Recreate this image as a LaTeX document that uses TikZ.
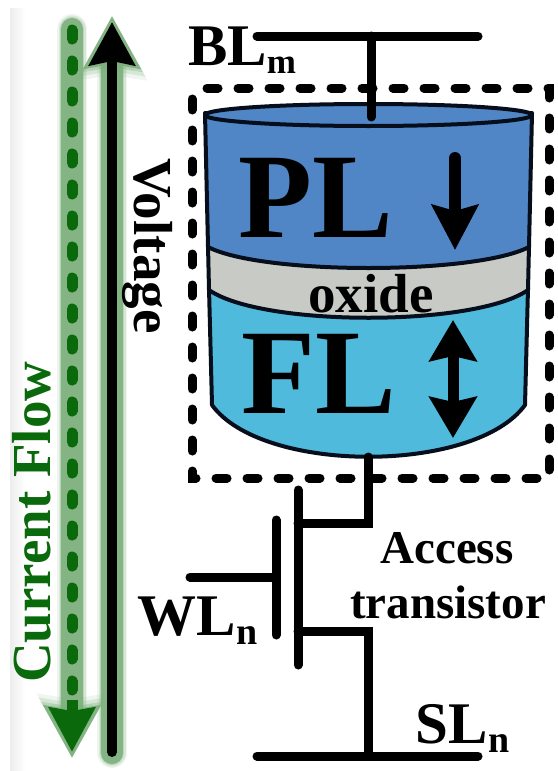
\documentclass[tikz,border=0pt]{standalone}
\usepackage{fontspec}
\setmainfont{Liberation Serif}
\usepackage{tikz}
\usetikzlibrary{arrows.meta,positioning,calc}
\definecolor{plBlue}{RGB}{80,134,198}
\definecolor{flCyan}{RGB}{80,186,220}
\definecolor{oxGray}{RGB}{200,202,197}
\definecolor{edgeNavy}{RGB}{6,14,28}
\definecolor{flowGreen}{RGB}{10,105,10}
\definecolor{haloGreen}{RGB}{122,174,122}
\tikzset{
  cellWire/.style={line width=9pt, line cap=round, line join=miter, black},
  cellBox/.style={line width=9pt, line cap=round, black, dash pattern=on 11pt off 20pt, dash phase=20pt},
  cellLayer/.style={draw=edgeNavy, line width=4pt, line join=round},
  %% Labels
  lblBig/.style={inner sep=0pt, font=\fontsize{121}{121}\selectfont\bfseries},
  lblLine/.style={inner sep=0pt, font=\fontsize{59}{59}\selectfont\bfseries},
  lblMid/.style={inner sep=0pt, font=\fontsize{55}{55}\selectfont\bfseries},
  lblAcc/.style={inner sep=0pt, font=\fontsize{47}{47}\selectfont\bfseries},
}
\newcommand{\subn}[1]{\raisebox{-9pt}{\fontsize{38}{38}\selectfont\kern1pt #1}}
\begin{document}
\begin{tikzpicture}[x=1pt, y=-1pt]
\useasboundingbox (0,0) rectangle (557,771);
\fill[left color=gray!14, right color=white] (10,8) rectangle (26,771);

%% Halos
\coordinate (flowTop) at (72,30);
\coordinate (flowEnd) at (72,700);
\coordinate (flowTip) at (72,752);
\coordinate (voltBot) at (112,752);
\coordinate (voltTip) at (112,22);
\foreach \haloW/\haloL/\haloS/\haloO in {30/63/67/0.12, 27/59/63/0.2, 24/55/59/0.3, 22/52/55/0.85}{
  \draw[haloGreen, opacity=\haloO, line width=\haloW pt, line cap=round, shorten >=-6pt, shorten <=-1pt,
    -{Stealth[length=\haloL pt, width=\haloS pt, inset=4pt]}] (flowTop) -- (flowTip);
  \draw[haloGreen, opacity=\haloO, line width=\haloW pt, line cap=round, shorten >=-6pt, shorten <=-1pt,
    -{Stealth[length=\haloL pt, width=\haloS pt, inset=4pt]}] (voltBot) -- (voltTip);
}

%% Current and voltage arrows
\draw[flowGreen, line width=11pt, line cap=round, dash pattern=on 9pt off 22pt] (flowTop) -- (flowEnd);
\draw[flowGreen, line width=11pt, -{Stealth[length=44pt, width=45pt, inset=3pt]}] (flowEnd) -- (flowTip);
\draw[black, line width=10pt, line cap=round, -{Stealth[length=43pt, width=45pt, inset=4pt]}] (voltBot) -- (voltTip);

%% Cylinder
\coordinate (blLeft)  at (257,36);
\coordinate (blRight) at (478,36);
\coordinate (blJoin)  at (371,36);
\coordinate (blEnd)   at (371,117);
\path[fill=flCyan, cellLayer] (209,288) -- (212,405) .. controls (262,474) and (475,474) .. (525,405) -- (528,288) -- cycle;
\path[fill=oxGray, cellLayer] (208,245) -- (209,290) .. controls (262,327) and (475,327) .. (528,290) -- (529,245) -- cycle;
\path[fill=plBlue, cellLayer] (205,113) -- (208,247) .. controls (262,275) and (475,275) .. (529,247) -- (532,113) -- cycle;
\draw[fill=plBlue, cellLayer] (368.5,115) ellipse [x radius=163.5, y radius=11];

%% Dashed frame
\coordinate (boxA) at (192,88);
\coordinate (boxB) at (549,478);
\draw[cellBox] (boxA) rectangle (boxB);

%% Wires
\coordinate (cylBot)   at (368,457);
\coordinate (drainR)   at (368,523);
\coordinate (drainL)   at (298,523);
\coordinate (chanTop)  at (298,490);
\coordinate (chanBot)  at (298,665);
\coordinate (gateTop)  at (276,520);
\coordinate (gateBot)  at (276,635);
\coordinate (wlLeft)   at (190,577);
\coordinate (wlRight)  at (276,577);
\coordinate (srcL)     at (298,631);
\coordinate (srcR)     at (368,631);
\coordinate (slJoin)   at (368,756);
\coordinate (slLeft)   at (257,756);
\coordinate (slRight)  at (478,756);
\draw[cellWire] (blLeft) -- (blRight);
\draw[cellWire] (blJoin) -- (blEnd);
\draw[cellWire] (cylBot) -- (drainR) -- (drainL);
\draw[cellWire] (chanTop) -- (chanBot);
\draw[cellWire] (gateTop) -- (gateBot);
\draw[cellWire] (wlLeft) -- (wlRight);
\draw[cellWire] (srcL) -- (srcR) -- (slJoin);
\draw[cellWire] (slLeft) -- (slRight);

%% Polarisation arrows
\coordinate (plTop) at (455,158);
\coordinate (plTip) at (455,250);
\coordinate (flTop) at (453,320);
\coordinate (flBot) at (453,438);
\draw[black, line width=12pt, line cap=round, -{Stealth[length=45pt, width=46pt, inset=6pt]}] (plTop) -- (plTip);
\draw[black, line width=11pt, {Stealth[length=41pt, width=47pt, inset=5pt]}-{Stealth[length=41pt, width=47pt, inset=5pt]}] (flTop) -- (flBot);

%% Labels
\node[lblBig, anchor=base west] (lblPL) at (238,237) {PL};
\node[lblBig, anchor=base west] (lblFL) at (241,413) {FL};
\node[lblMid, anchor=base] (lblOx) at (371,312) {oxide};
\node[lblLine, anchor=base west] (lblBL) at (188,65) {BL\raisebox{-8pt}{\fontsize{35}{35}\selectfont m}};
\node[lblLine, anchor=base west] (lblWL) at (137,635) {WL\subn{n}};
\node[lblLine, anchor=base west] (lblSL) at (415,743) {SL\subn{n}};
\node[lblAcc, anchor=base] (lblAcc) at (447,563) {Access};
\node[lblAcc, anchor=base] (lblTr) at (448,618) {transistor};
\node[lblMid, anchor=base west, rotate=-90] (lblVolt) at (134,158) {Voltage};
\node[lblMid, anchor=base west, rotate=90, text=flowGreen] (lblFlow) at (50,683) {Current Flow};
\end{tikzpicture}
\end{document}
